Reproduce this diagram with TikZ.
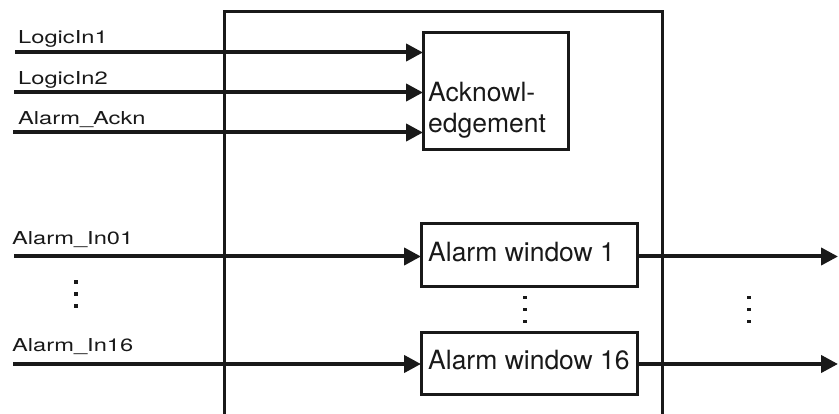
\documentclass[tikz,border=0pt]{standalone}
\usepackage{fontspec}
\setmainfont{TeX Gyre Heros}
% widened face for the signal names
\newfontfamily\widesans[FakeStretch=1.33]{TeX Gyre Heros}
\usetikzlibrary{arrows.meta}
\begin{document}
\begin{tikzpicture}[x=1pt,y=-1pt,
  wire/.style={line width=4pt, draw=black!90, -{Triangle[length=17pt,width=17pt]}},
  block/.style={draw=black!90, line width=3pt, inner sep=0pt, outer sep=0pt},
  boxtext/.style={anchor=base west, inner sep=0pt,
    font=\fontsize{26.5}{31}\selectfont, text=black!90},
  sig/.style={anchor=base west, inner sep=0pt,
    font=\widesans\fontsize{17.8}{21}\selectfont, text=black!90},
  dotmark/.style={fill=black!90}
]
\useasboundingbox (0,0) rectangle (839,414);

% outer module frame (open at the bottom)
\draw[line width=3pt, draw=black!90] (224,414) -- (224,12) -- (662,12) -- (662,414);

% inner blocks
\node[block, minimum width=145pt, minimum height=117pt] (ack) at (495.5,91.5) {};
\node[block, minimum width=216pt, minimum height=63pt] (w1) at (529,255.5) {};
\node[block, minimum width=216pt, minimum height=62pt] (w16) at (529,364) {};

\node[boxtext] (acktxta) at (428,102) {Acknowl-};
\node[boxtext] (acktxtb) at (428,133) {edgement};
\node[boxtext] (w1txt) at (428,262) {Alarm window 1};
\node[boxtext] (w16txt) at (428,370) {Alarm window 16};

% input signal names
\node[sig] (lin1) at (18,44) {LogicIn1};
\node[sig] (lin2) at (18,85) {LogicIn2};
\node[sig] (lack) at (18,125) {Alarm\_Ackn};
\node[sig] (lal1) at (12,245) {Alarm\_In01};
\node[sig] (lal16) at (12,352) {Alarm\_In16};

% free ends of the wires
\coordinate (s1) at (15,52.5);
\coordinate (s2) at (14,92.5);
\coordinate (s3) at (13,132.5);
\coordinate (s4) at (14,256.5);
\coordinate (s5) at (13,364);
\coordinate (o1) at (838,256.5);
\coordinate (o16) at (838,364);

% wires
\draw[wire] (s1) -- (ack.west |- s1);
\draw[wire] (s2) -- (ack.west |- s2);
\draw[wire] (s3) -- (ack.west |- s3);
\draw[wire] (s4) -- (w1.west |- s4);
\draw[wire] (s5) -- (w16.west |- s5);
\draw[wire] (w1.east |- o1) -- (o1);
\draw[wire] (w16.east |- o16) -- (o16);

% vertical ellipses
\foreach \x/\ya in {76/282, 525/297.5, 749/297.5}{
  \foreach \k in {0,1,2}{
    \fill[dotmark] ({\x-1.7},{\ya+12*\k-1.7}) rectangle ++(3.4,3.4);
  }
}
\end{tikzpicture}
\end{document}
